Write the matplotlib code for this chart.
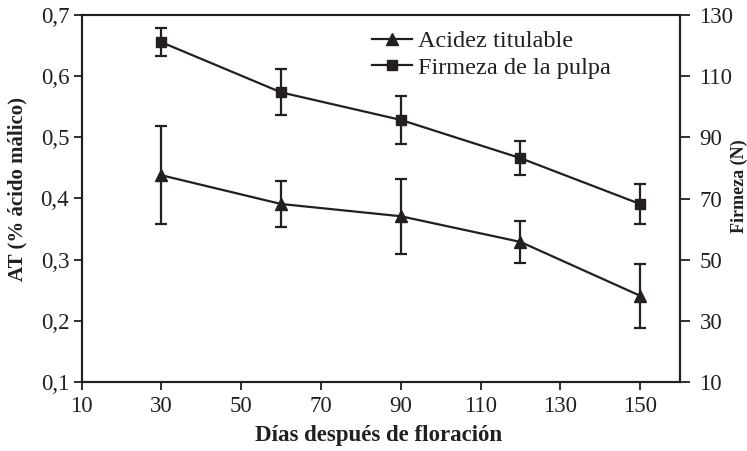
import matplotlib
matplotlib.use("Agg")
import matplotlib.pyplot as plt

dias = [30, 60, 90, 120, 150]
acidez = [0.438, 0.391, 0.371, 0.329, 0.241]
acidez_err = [0.080, 0.038, 0.061, 0.035, 0.052]
firmeza = [121.1, 104.7, 95.7, 83.2, 68.2]
firmeza_err = [4.5, 7.5, 7.9, 5.6, 6.5]

x_ticks = [10, 30, 50, 70, 90, 110, 130, 150]
y1_ticks = [0.1, 0.2, 0.3, 0.4, 0.5, 0.6, 0.7]
y1_labels = ["0,1", "0,2", "0,3", "0,4", "0,5", "0,6", "0,7"]
y2_ticks = [10, 30, 50, 70, 90, 110, 130]

col = "#231f20"
plt.rcParams["font.family"] = ["Liberation Serif", "DejaVu Serif"]

W, H = 747, 451
fig = plt.figure(figsize=(W / 100, H / 100), dpi=100)
ax = fig.add_axes([81.7 / W, 1 - 382 / H, (680 - 81.7) / W, (382 - 15) / H])
ax2 = ax.twinx()

e1 = ax.errorbar(dias, acidez, yerr=acidez_err, color=col, marker="^", markersize=8,
                 linewidth=1.6, elinewidth=1.6, capsize=4.5, capthick=1.6,
                 label="Acidez titulable")
e2 = ax2.errorbar(dias, firmeza, yerr=firmeza_err, color=col, marker="s", markersize=7.5,
                  linewidth=1.6, elinewidth=1.6, capsize=4.5, capthick=1.6,
                  label="Firmeza de la pulpa")

ax.set_xlim(10, 160)
ax.set_ylim(0.1, 0.7)
ax2.set_ylim(10, 130)
ax.set_xticks(x_ticks)
ax.set_xticklabels([str(v) for v in x_ticks])
ax.set_yticks(y1_ticks)
ax.set_yticklabels(y1_labels)
ax2.set_yticks(y2_ticks)

for a in (ax, ax2):
    for s in a.spines.values():
        s.set_linewidth(1.5)
        s.set_color(col)
    a.tick_params(direction="out", length=6, width=1.3, color=col,
                  labelsize=16.5, labelcolor=col, pad=3)
ax.tick_params(axis="x", pad=4)
ax2.tick_params(axis="y", length=7.5, pad=6.5)

fig.text(379 / W, 1 - 435 / H, "Días después de floración", fontsize=16.5,
         fontweight="bold", color=col, ha="center", va="center")
fig.text(17 / W, 1 - 189 / H, "AT (% ácido málico)", fontsize=15,
         fontweight="bold", color=col, ha="center", va="center", rotation=90)
fig.text(739 / W, 1 - 186 / H, "Firmeza (N)", fontsize=13,
         fontweight="bold", color=col, ha="center", va="center", rotation=90)

fig.legend([e1[0], e2[0]], ["Acidez titulable", "Firmeza de la pulpa"],
           loc="upper left", bbox_to_anchor=(372 / W, 1 - 30 / H),
           bbox_transform=fig.transFigure, frameon=False, fontsize=17.5,
           borderpad=0, borderaxespad=0, handlelength=1.65, handletextpad=0.25,
           labelspacing=0.2, labelcolor=col)

fig.savefig("out.png", dpi=100)
